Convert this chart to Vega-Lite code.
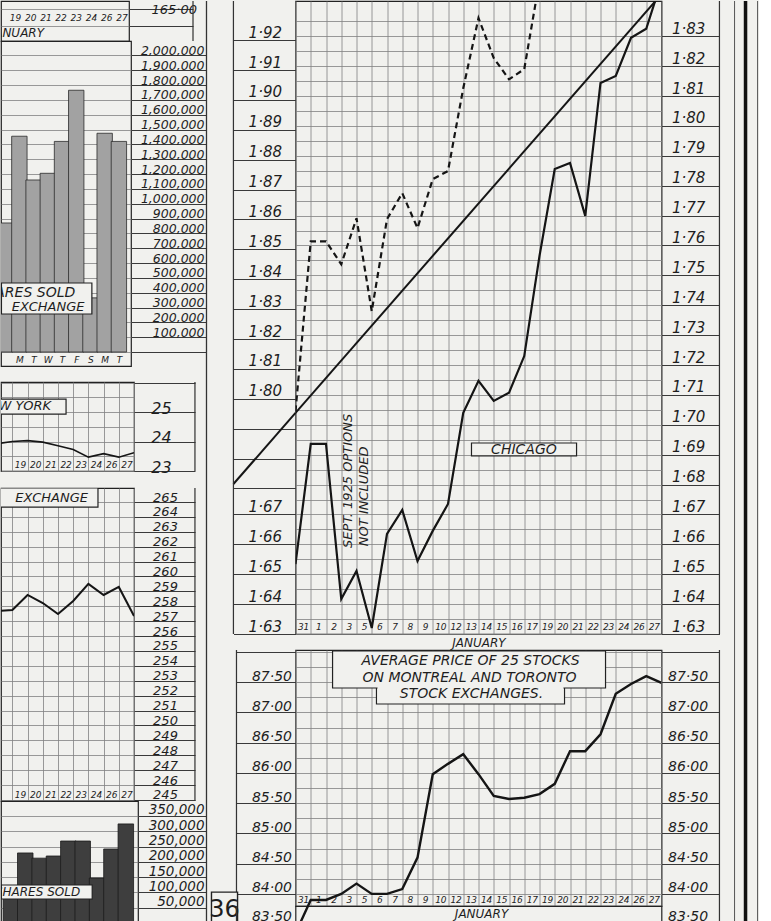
{
"$schema": "https://vega.github.io/schema/vega-lite/v6.json",
"padding": 0,
"background": "#f1f1ee",
"config": {
  "view": {"stroke": "#222", "strokeWidth": 1.2},
  "axis": {"labelFont": "DejaVu Sans", "labelFontStyle": "italic", "labelColor": "#1e1e1e", "gridColor": "#828282", "gridWidth": 0.8, "tickColor": "#3a3a3a", "tickWidth": 1, "domain": false, "labelOverlap": false, "labelFlush": false},
  "text": {"font": "DejaVu Sans", "fontStyle": "italic", "color": "#1e1e1e"}
},
"datasets": {
  "avg": [{"g":0,"v":83.35},{"g":1,"v":83.90},{"g":2,"v":83.90},{"g":3,"v":84.00},{"g":4,"v":84.17},{"g":5,"v":84.00},{"g":6,"v":84.00},{"g":7,"v":84.08},{"g":8,"v":84.60},{"g":9,"v":85.98},{"g":10,"v":86.15},{"g":11,"v":86.31},{"g":12,"v":85.98},{"g":13,"v":85.62},{"g":14,"v":85.57},{"g":15,"v":85.59},{"g":16,"v":85.65},{"g":17,"v":85.82},{"g":18,"v":86.36},{"g":19,"v":86.36},{"g":20,"v":86.64},{"g":21,"v":87.31},{"g":22,"v":87.47},{"g":23,"v":87.60},{"g":24,"v":87.49}]
},
"spacing": -3.5,
"hconcat": [
 {
  "spacing": 0, "bounds": "flush",
  "vconcat": [
   {
    "width": 128, "height": 40,
    "resolve": {"axis": {"x": "independent", "y": "independent"}},
    "layer": [
     {"data": {"values": [{}]}, "mark": {"type": "rect", "color": "#333"},
      "encoding": {"x": {"datum": 27.67, "type": "quantitative", "scale": {"domain": [15.08, 23.5], "nice": false, "zero": false},
        "axis": {"values": [16,17,18,19,20,21,22,23], "grid": false, "ticks": false, "labelExpr": "['31','1','2','3','5','6','7','8','9','10','12','13','14','15','16','17','19','20','21','22','23','24','26','27'][datum.value]", "labelPadding": -23.5, "labelBaseline": "middle", "labelFontSize": 9, "labelAngle": 0, "title": null}}, "x2": {"datum": 27.75}}},
     {"data": {"values": [{}]}, "mark": {"type": "text", "text": "JANUARY", "align": "right", "baseline": "middle", "fontSize": 12, "clip": true},
      "encoding": {"x": {"datum": 17.91, "type": "quantitative", "scale": {"domain": [15.08, 23.5], "nice": false, "zero": false}, "axis": null},
        "y": {"datum": 164.647, "type": "quantitative", "scale": {"domain": [164.53, 165.118], "nice": false, "zero": false},
          "axis": {"orient": "right", "values": [164.75, 165.0], "grid": true, "tickSize": 64, "labelExpr": "datum.value > 164.9 ? '165·00' : ''", "labelPadding": -42, "labelAlign": "left", "labelBaseline": "middle", "labelOffset": 0, "labelFontSize": 13, "title": null}}}}
    ]
   },
   {
    "width": 130, "height": 325,
    "resolve": {"axis": {"x": "independent", "y": "independent"}},
    "layer": [
     {"data": {"values": [{"i":15,"day":"17","shares":870000},{"i":16,"day":"19","shares":1455000},{"i":17,"day":"20","shares":1160000},{"i":18,"day":"21","shares":1205000},{"i":19,"day":"22","shares":1420000},{"i":20,"day":"23","shares":1765000},{"i":21,"day":"24","shares":365000},{"i":22,"day":"26","shares":1475000},{"i":23,"day":"27","shares":1420000}]},
      "mark": {"type": "bar", "size": 15.4, "fill": "#a2a2a2", "stroke": "#2a2a2a", "strokeWidth": 0.8, "clip": true},
      "encoding": {
        "x": {"field": "i", "type": "quantitative", "scale": {"domain": [15.06, 23.5], "nice": false, "zero": false},
          "axis": {"values": [16,17,18,19,20,21,22,23], "grid": false, "ticks": false, "labelExpr": "['W','T','F','S','M','T','W','T','F','S','M','T','W','T','F','S','M','T','W','T','F','S','M','T'][datum.value]", "labelPadding": -7, "labelBaseline": "middle", "labelFontSize": 9, "labelAngle": 0, "title": null}},
        "y": {"field": "shares", "type": "quantitative", "scale": {"domain": [-94400, 2097100], "nice": false, "zero": false},
          "axis": {"orient": "right", "values": [0,100000,200000,300000,400000,500000,600000,700000,800000,900000,1000000,1100000,1200000,1300000,1400000,1500000,1600000,1700000,1800000,1900000,2000000], "grid": true, "tickSize": 75, "labelExpr": "datum.value > 0 ? format(datum.value, ',') : ''", "labelPadding": -2, "labelAlign": "right", "labelBaseline": "middle", "labelOffset": -5, "labelFontSize": 12.5, "title": null}}
      }},
     {"data": {"values": [{}]}, "mark": {"type": "rect", "fill": "#f1f1ee", "stroke": "#222", "strokeWidth": 1.2, "clip": true},
      "encoding": {"x": {"datum": 14.74, "type": "quantitative", "scale": {"domain": [15.06, 23.5], "nice": false, "zero": false}, "axis": null}, "x2": {"datum": 21.10},
        "y": {"datum": 465300, "type": "quantitative", "scale": {"domain": [-94400, 2097100], "nice": false, "zero": false}, "axis": null}, "y2": {"datum": 256200}}},
     {"data": {"values": [{}]}, "mark": {"type": "text", "text": "SHARES SOLD", "align": "right", "baseline": "middle", "fontSize": 14, "clip": true},
      "encoding": {"x": {"datum": 19.93, "type": "quantitative", "scale": {"domain": [15.06, 23.5], "nice": false, "zero": false}, "axis": null},
        "y": {"datum": 397800, "type": "quantitative", "scale": {"domain": [-94400, 2097100], "nice": false, "zero": false}, "axis": null}}},
     {"data": {"values": [{}]}, "mark": {"type": "text", "text": "EXCHANGE", "align": "right", "baseline": "middle", "fontSize": 13, "clip": true},
      "encoding": {"x": {"datum": 20.58, "type": "quantitative", "scale": {"domain": [15.06, 23.5], "nice": false, "zero": false}, "axis": null},
        "y": {"datum": 303400, "type": "quantitative", "scale": {"domain": [-94400, 2097100], "nice": false, "zero": false}, "axis": null}}}
    ]
   },
   {"width": 10, "height": 16, "view": {"stroke": null}, "data": {"values": [{}]}, "mark": {"type": "point", "opacity": 0, "size": 0}},
   {
    "width": 133, "height": 89,
    "resolve": {"axis": {"x": "independent", "y": "independent"}},
    "layer": [
     {"data": {"values": [{"g":15,"v":23.93},{"g":16,"v":24.0},{"g":17,"v":24.03},{"g":18,"v":23.98},{"g":19,"v":23.86},{"g":20,"v":23.73},{"g":21,"v":23.47},{"g":22,"v":23.59},{"g":23,"v":23.47},{"g":24,"v":23.62}]},
      "mark": {"type": "line", "color": "#151515", "strokeWidth": 1.6, "clip": true},
      "encoding": {
        "x": {"field": "g", "type": "quantitative", "scale": {"domain": [15.25, 24], "nice": false, "zero": false},
          "axis": {"values": [15,16,17,18,19,20,21,22,23,24], "grid": true, "ticks": false, "labelExpr": "datum.value < 24 ? ['31','1','2','3','5','6','7','8','9','10','12','13','14','15','16','17','19','20','21','22','23','24','26','27'][datum.value] : ''", "labelOffset": 7.6, "labelPadding": -7, "labelBaseline": "middle", "labelFontSize": 9, "labelAngle": 0, "title": null}},
        "y": {"field": "v", "type": "quantitative", "scale": {"domain": [23, 26.02], "nice": false, "zero": false},
          "axis": {"orient": "right", "values": [23,23.5,24,24.5,25,25.5,26], "grid": true, "tickSize": 61, "tickOpacity": {"condition": {"test": "datum.value % 1 == 0", "value": 1}, "value": 0}, "labelExpr": "datum.value % 1 == 0 && datum.value < 26 ? format(datum.value, 'd') : ''", "labelPadding": -34, "labelAlign": "center", "labelBaseline": "middle", "labelOffset": -4, "labelFontSize": 16, "title": null}}
      }},
     {"data": {"values": [{}]}, "mark": {"type": "rect", "fill": "#f1f1ee", "stroke": "#222", "strokeWidth": 1.2, "clip": true},
      "encoding": {"x": {"datum": 14.92, "type": "quantitative", "scale": {"domain": [15.25, 24], "nice": false, "zero": false}, "axis": null}, "x2": {"datum": 19.53},
        "y": {"datum": 25.44, "type": "quantitative", "scale": {"domain": [23, 26.02], "nice": false, "zero": false}, "axis": null}, "y2": {"datum": 24.93}}},
     {"data": {"values": [{}]}, "mark": {"type": "text", "text": "NEW YORK", "align": "right", "baseline": "middle", "fontSize": 13, "clip": true},
      "encoding": {"x": {"datum": 18.54, "type": "quantitative", "scale": {"domain": [15.25, 24], "nice": false, "zero": false}, "axis": null},
        "y": {"datum": 25.19, "type": "quantitative", "scale": {"domain": [23, 26.02], "nice": false, "zero": false}, "axis": null}}},
     {"data": {"values": [{}]}, "mark": {"type": "rect", "color": "#333"},
      "encoding": {"x": {"datum": 27.97, "type": "quantitative", "scale": {"domain": [15.25, 24], "nice": false, "zero": false}, "axis": null}, "x2": {"datum": 28.05}}}
    ]
   },
   {"width": 10, "height": 17, "view": {"stroke": null}, "data": {"values": [{}]}, "mark": {"type": "point", "opacity": 0, "size": 0}},
   {
    "width": 133, "height": 313,
    "resolve": {"axis": {"x": "independent", "y": "independent"}},
    "layer": [
     {"data": {"values": [{"g":15,"v":257.68},{"g":16,"v":257.75},{"g":17,"v":258.76},{"g":18,"v":258.22},{"g":19,"v":257.48},{"g":20,"v":258.36},{"g":21,"v":259.50},{"g":22,"v":258.76},{"g":23,"v":259.30},{"g":24,"v":257.35}]},
      "mark": {"type": "line", "color": "#151515", "strokeWidth": 2, "clip": true},
      "encoding": {
        "x": {"field": "g", "type": "quantitative", "scale": {"domain": [15.25, 24], "nice": false, "zero": false},
          "axis": {"values": [15,16,17,18,19,20,21,22,23,24], "grid": true, "ticks": false, "labelExpr": "datum.value < 24 ? ['31','1','2','3','5','6','7','8','9','10','12','13','14','15','16','17','19','20','21','22','23','24','26','27'][datum.value] : ''", "labelOffset": 7.6, "labelPadding": -7, "labelBaseline": "middle", "labelFontSize": 9, "labelAngle": 0, "title": null}},
        "y": {"field": "v", "type": "quantitative", "scale": {"domain": [244.93, 265.94], "nice": false, "zero": false},
          "axis": {"orient": "right", "values": [245,246,247,248,249,250,251,252,253,254,255,256,257,258,259,260,261,262,263,264,265], "grid": true, "tickSize": 61, "labelPadding": -30, "labelAlign": "center", "labelBaseline": "middle", "labelOffset": -5, "labelFontSize": 13, "title": null}}
      }},
     {"data": {"values": [{}]}, "mark": {"type": "rect", "fill": "#f1f1ee", "stroke": "#222", "strokeWidth": 1.2, "clip": true},
      "encoding": {"x": {"datum": 14.92, "type": "quantitative", "scale": {"domain": [15.25, 24], "nice": false, "zero": false}, "axis": null}, "x2": {"datum": 21.63},
        "y": {"datum": 265.94, "type": "quantitative", "scale": {"domain": [244.93, 265.94], "nice": false, "zero": false}, "axis": null}, "y2": {"datum": 264.66}}},
     {"data": {"values": [{}]}, "mark": {"type": "text", "text": "EXCHANGE", "align": "right", "baseline": "middle", "fontSize": 13, "clip": true},
      "encoding": {"x": {"datum": 20.97, "type": "quantitative", "scale": {"domain": [15.25, 24], "nice": false, "zero": false}, "axis": null},
        "y": {"datum": 265.27, "type": "quantitative", "scale": {"domain": [244.93, 265.94], "nice": false, "zero": false}, "axis": null}}},
     {"data": {"values": [{}]}, "mark": {"type": "rect", "color": "#333"},
      "encoding": {"x": {"datum": 27.97, "type": "quantitative", "scale": {"domain": [15.25, 24], "nice": false, "zero": false}, "axis": null}, "x2": {"datum": 28.05}}}
    ]
   },
   {
    "width": 137, "height": 125,
    "resolve": {"axis": {"x": "independent", "y": "independent"}},
    "layer": [
     {"data": {"values": [{"i":15,"shares":100000},{"i":16,"shares":229000},{"i":17,"shares":212000},{"i":18,"shares":219000},{"i":19,"shares":268000},{"i":20,"shares":268000},{"i":21,"shares":147000},{"i":22,"shares":242000},{"i":23,"shares":324000}]},
      "mark": {"type": "bar", "size": 15.5, "fill": "#3e3e3e", "stroke": "#1a1a1a", "strokeWidth": 0.8, "clip": true},
      "encoding": {
        "x": {"field": "i", "type": "quantitative", "scale": {"domain": [14.66, 23.5], "nice": false, "zero": false}, "axis": null},
        "y": {"field": "shares", "type": "quantitative", "scale": {"domain": [-10000, 399000], "nice": false, "zero": false},
          "axis": {"orient": "right", "values": [0,50000,100000,150000,200000,250000,300000,350000], "grid": true, "tickSize": 68, "labelExpr": "datum.value > 0 ? format(datum.value, ',') : ''", "labelPadding": -2, "labelAlign": "right", "labelBaseline": "middle", "labelOffset": -6, "labelFontSize": 13.5, "title": null}}
      }},
     {"data": {"values": [{}]}, "mark": {"type": "rect", "fill": "#f1f1ee", "stroke": "#222", "strokeWidth": 1.2, "clip": true},
      "encoding": {"x": {"datum": 14.34, "type": "quantitative", "scale": {"domain": [14.66, 23.5], "nice": false, "zero": false}, "axis": null}, "x2": {"datum": 20.66},
        "y": {"datum": 124200, "type": "quantitative", "scale": {"domain": [-10000, 399000], "nice": false, "zero": false}, "axis": null}, "y2": {"datum": 78400}}},
     {"data": {"values": [{}]}, "mark": {"type": "text", "text": "SHARES SOLD", "align": "right", "baseline": "middle", "fontSize": 12, "clip": true},
      "encoding": {"x": {"datum": 19.82, "type": "quantitative", "scale": {"domain": [14.66, 23.5], "nice": false, "zero": false}, "axis": null},
        "y": {"datum": 101300, "type": "quantitative", "scale": {"domain": [-10000, 399000], "nice": false, "zero": false}, "axis": null}}}
    ]
   }
  ]
 },
 {
  "spacing": 0, "bounds": "flush",
  "vconcat": [
   {
    "width": 366, "height": 633,
    "resolve": {"scale": {"y": "independent"}, "axis": {"x": "independent", "y": "independent"}},
    "layer": [
     {
      "resolve": {"axis": {"x": "independent", "y": "independent"}},
      "layer": [
       {"data": {"values": [{"g":0,"v":1.6534},{"g":1,"v":1.6936},{"g":2,"v":1.6936},{"g":3,"v":1.6417},{"g":4,"v":1.6511},{"g":5,"v":1.6320},{"g":6,"v":1.6635},{"g":7,"v":1.6715},{"g":8,"v":1.6544},{"g":9,"v":1.6645},{"g":10,"v":1.6735},{"g":11,"v":1.7040},{"g":12,"v":1.7147},{"g":13,"v":1.7080},{"g":14,"v":1.7107},{"g":15,"v":1.7230},{"g":16,"v":1.7565},{"g":17,"v":1.7856},{"g":18,"v":1.7876},{"g":19,"v":1.7699},{"g":20,"v":1.8144},{"g":21,"v":1.8167},{"g":22,"v":1.8295},{"g":23,"v":1.8325},{"g":24,"v":1.8485}]},
        "mark": {"type": "line", "color": "#151515", "strokeWidth": 2.2, "clip": true},
        "encoding": {
          "x": {"field": "g", "type": "quantitative", "scale": {"domain": [0, 24], "nice": false, "zero": false},
            "axis": {"orient": "bottom", "values": [0,1,2,3,4,5,6,7,8,9,10,11,12,13,14,15,16,17,18,19,20,21,22,23,24], "grid": true, "ticks": false, "labelExpr": "datum.value < 24 ? ['31','1','2','3','5','6','7','8','9','10','12','13','14','15','16','17','19','20','21','22','23','24','26','27'][datum.value] : ''", "labelOffset": 7.6, "labelPadding": -12, "labelBaseline": "top", "labelFontSize": 9, "labelAngle": 0,
              "title": "JANUARY", "titleFont": "DejaVu Sans", "titleFontStyle": "italic", "titleFontWeight": "normal", "titleFontSize": 12, "titleColor": "#1e1e1e", "titleY": 8, "titleBaseline": "middle"}},
          "y": {"field": "v", "type": "quantitative", "scale": {"domain": [1.63, 1.8418], "nice": false, "zero": false},
            "axis": {"orient": "right", "values": [1.63,1.635,1.64,1.645,1.65,1.655,1.66,1.665,1.67,1.675,1.68,1.685,1.69,1.695,1.7,1.705,1.71,1.715,1.72,1.725,1.73,1.735,1.74,1.745,1.75,1.755,1.76,1.765,1.77,1.775,1.78,1.785,1.79,1.795,1.8,1.805,1.81,1.815,1.82,1.825,1.83,1.835], "grid": true, "tickSize": 58, "tickOpacity": {"condition": {"test": "abs(datum.value*100-round(datum.value*100)) < 0.01", "value": 1}, "value": 0},
              "labelExpr": "abs(datum.value*100-round(datum.value*100)) < 0.01 ? replace(format(datum.value, '.2f'), '.', '·') : ''", "labelPadding": -48, "labelAlign": "left", "labelBaseline": "middle", "labelOffset": -8, "labelFontSize": 15, "title": null}}
        }},
       {"data": {"values": [{"g": -4.07, "v": 1.6802}, {"g": 0, "v": 1.7040}]},
        "mark": {"type": "line", "color": "#151515", "strokeWidth": 2},
        "encoding": {"x": {"field": "g", "type": "quantitative", "scale": {"domain": [0, 24], "nice": false, "zero": false}, "axis": null},
          "y": {"field": "v", "type": "quantitative", "scale": {"domain": [1.63, 1.8418], "nice": false, "zero": false}, "axis": null}}},
       {"data": {"values": [{"g": 0, "v": 1.7040}, {"g": 24.5, "v": 1.8470}]},
        "mark": {"type": "line", "color": "#151515", "strokeWidth": 2, "clip": true},
        "encoding": {"x": {"field": "g", "type": "quantitative", "scale": {"domain": [0, 24], "nice": false, "zero": false}, "axis": null},
          "y": {"field": "v", "type": "quantitative", "scale": {"domain": [1.63, 1.8418], "nice": false, "zero": false}, "axis": null}}},
       {"data": {"values": [{}]}, "mark": {"type": "rect", "color": "#333"},
        "encoding": {"x": {"datum": -5.879, "type": "quantitative", "scale": {"domain": [0, 24], "nice": false, "zero": false}, "axis": null}, "x2": {"datum": -5.794},
          "y": {"datum": 1.8418, "type": "quantitative", "scale": {"domain": [1.63, 1.8418], "nice": false, "zero": false}, "axis": null}, "y2": {"datum": 1.5336}}},
       {"data": {"values": [{}]}, "mark": {"type": "rect", "color": "#555"},
        "encoding": {"x": {"datum": 28.757, "type": "quantitative", "scale": {"domain": [0, 24], "nice": false, "zero": false}, "axis": null}, "x2": {"datum": 28.823},
          "y": {"datum": 1.8418, "type": "quantitative", "scale": {"domain": [1.63, 1.8418], "nice": false, "zero": false}, "axis": null}, "y2": {"datum": 1.5336}}},
       {"data": {"values": [{}]}, "mark": {"type": "rect", "color": "#111"},
        "encoding": {"x": {"datum": 29.395, "type": "quantitative", "scale": {"domain": [0, 24], "nice": false, "zero": false}, "axis": null}, "x2": {"datum": 29.625},
          "y": {"datum": 1.8418, "type": "quantitative", "scale": {"domain": [1.63, 1.8418], "nice": false, "zero": false}, "axis": null}, "y2": {"datum": 1.5336}}},
       {"data": {"values": [{}]}, "mark": {"type": "rect", "color": "#555"},
        "encoding": {"x": {"datum": 30.267, "type": "quantitative", "scale": {"domain": [0, 24], "nice": false, "zero": false}, "axis": null}, "x2": {"datum": 30.333},
          "y": {"datum": 1.8418, "type": "quantitative", "scale": {"domain": [1.63, 1.8418], "nice": false, "zero": false}, "axis": null}, "y2": {"datum": 1.5336}}},
       {"data": {"values": [{}]}, "mark": {"type": "rect", "color": "#333"},
        "encoding": {"x": {"datum": -4.11, "type": "quantitative", "scale": {"domain": [0, 24], "nice": false, "zero": false}, "axis": null}, "x2": {"datum": -4.03}}},
       {"data": {"values": [{}]}, "mark": {"type": "rect", "color": "#333"},
        "encoding": {"x": {"datum": 27.76, "type": "quantitative", "scale": {"domain": [0, 24], "nice": false, "zero": false}, "axis": null}, "x2": {"datum": 27.84}}},
       {"data": {"values": [{}]}, "mark": {"type": "rect", "fill": "#f1f1ee", "stroke": "#222", "strokeWidth": 1.2},
        "encoding": {"x": {"datum": 11.54, "type": "quantitative", "scale": {"domain": [0, 24], "nice": false, "zero": false}, "axis": null}, "x2": {"datum": 18.43},
          "y": {"datum": 1.6939, "type": "quantitative", "scale": {"domain": [1.63, 1.8418], "nice": false, "zero": false}, "axis": null}, "y2": {"datum": 1.6896}}},
       {"data": {"values": [{}]}, "mark": {"type": "text", "text": "CHICAGO", "align": "center", "baseline": "middle", "fontSize": 14},
        "encoding": {"x": {"datum": 14.98, "type": "quantitative", "scale": {"domain": [0, 24], "nice": false, "zero": false}, "axis": null},
          "y": {"datum": 1.6917, "type": "quantitative", "scale": {"domain": [1.63, 1.8418], "nice": false, "zero": false}, "axis": null}}},
       {"data": {"values": [{}]}, "mark": {"type": "text", "text": "SEPT. 1925 OPTIONS", "align": "left", "baseline": "middle", "angle": 270, "fontSize": 13},
        "encoding": {"x": {"datum": 3.41, "type": "quantitative", "scale": {"domain": [0, 24], "nice": false, "zero": false}, "axis": null},
          "y": {"datum": 1.6588, "type": "quantitative", "scale": {"domain": [1.63, 1.8418], "nice": false, "zero": false}, "axis": null}}},
       {"data": {"values": [{}]}, "mark": {"type": "text", "text": "NOT INCLUDED", "align": "left", "baseline": "middle", "angle": 270, "fontSize": 13},
        "encoding": {"x": {"datum": 4.46, "type": "quantitative", "scale": {"domain": [0, 24], "nice": false, "zero": false}, "axis": null},
          "y": {"datum": 1.6594, "type": "quantitative", "scale": {"domain": [1.63, 1.8418], "nice": false, "zero": false}, "axis": null}}}
      ]
     },
     {"data": {"values": [{"g":0,"v":1.7958},{"g":1,"v":1.8527},{"g":2,"v":1.8527},{"g":3,"v":1.8450},{"g":4,"v":1.8604},{"g":5,"v":1.8293},{"g":6,"v":1.8601},{"g":7,"v":1.8688},{"g":8,"v":1.8571},{"g":9,"v":1.8735},{"g":10,"v":1.8762},{"g":11,"v":1.9039},{"g":12,"v":1.9274},{"g":13,"v":1.9140},{"g":14,"v":1.9069},{"g":15,"v":1.9103},{"g":16,"v":1.9400}]},
      "mark": {"type": "line", "color": "#151515", "strokeWidth": 2.2, "strokeDash": [6, 4], "clip": true},
      "encoding": {
        "x": {"field": "g", "type": "quantitative", "scale": {"domain": [0, 24], "nice": false, "zero": false}, "axis": null},
        "y": {"field": "v", "type": "quantitative", "scale": {"domain": [1.7213, 1.9331], "nice": false, "zero": false},
          "axis": {"orient": "left", "values": [1.7213,1.7313,1.7413,1.7513,1.7613,1.77,1.78,1.79,1.8,1.81,1.82,1.83,1.84,1.85,1.86,1.87,1.88,1.89,1.9,1.91,1.92], "grid": false, "tickSize": 62,
            "labelExpr": "datum.value < 1.765 ? replace(format(datum.value - 0.0913, '.2f'), '.', '·') : (datum.value > 1.795 ? replace(format(datum.value, '.2f'), '.', '·') : '')", "labelPadding": -48, "labelAlign": "right", "labelBaseline": "middle", "labelOffset": -8, "labelFontSize": 15, "title": null}}
      }}
    ]
   },
   {"width": 10, "height": 16, "view": {"stroke": null}, "data": {"values": [{}]}, "mark": {"type": "point", "opacity": 0, "size": 0}},
   {
    "width": 366, "height": 256,
    "resolve": {"axis": {"x": "independent", "y": "independent"}},
    "layer": [
     {"data": {"name": "avg"},
      "mark": {"type": "line", "color": "#151515", "strokeWidth": 2.4, "clip": true},
      "encoding": {
        "x": {"field": "g", "type": "quantitative", "scale": {"domain": [0, 24], "nice": false, "zero": false},
          "axis": {"orient": "bottom", "values": [0,1,2,3,4,5,6,7,8,9,10,11,12,13,14,15,16,17,18,19,20,21,22,23,24], "grid": true, "ticks": false, "labelExpr": "datum.value < 24 ? ['31','1','2','3','5','6','7','8','9','10','12','13','14','15','16','17','19','20','21','22','23','24','26','27'][datum.value] : ''", "labelOffset": 7.6, "labelPadding": -11, "labelBaseline": "top", "labelFontSize": 9, "labelAngle": 0, "title": null}},
        "y": {"field": "v", "type": "quantitative", "scale": {"domain": [83.8, 88.033], "nice": false, "zero": false},
          "axis": {"orient": "left", "values": [84,84.25,84.5,84.75,85,85.25,85.5,85.75,86,86.25,86.5,86.75,87,87.25,87.5,87.75,88], "grid": true, "tickSize": 59, "tickOpacity": {"condition": {"test": "abs(datum.value*2-round(datum.value*2)) < 0.01", "value": 1}, "value": 0},
            "labelExpr": "abs(datum.value*2-round(datum.value*2)) < 0.01 && datum.value < 87.75 ? replace(format(datum.value, '.2f'), '.', '·') : ''", "labelPadding": -55, "labelAlign": "right", "labelBaseline": "middle", "labelOffset": -6, "labelFontSize": 14, "title": null}}
      }},
     {"data": {"values": [{}]}, "mark": {"type": "rect", "fill": "#f1f1ee", "stroke": "#222", "strokeWidth": 1.2},
      "encoding": {"x": {"datum": 5.31, "type": "quantitative", "scale": {"domain": [0, 24], "nice": false, "zero": false}, "axis": null}, "x2": {"datum": 17.64},
        "y": {"datum": 87.52, "type": "quantitative", "scale": {"domain": [83.8, 88.033], "nice": false, "zero": false},
          "axis": {"orient": "right", "values": [84,84.25,84.5,84.75,85,85.25,85.5,85.75,86,86.25,86.5,86.75,87,87.25,87.5,87.75,88], "grid": false, "tickSize": 58, "tickOpacity": {"condition": {"test": "abs(datum.value*2-round(datum.value*2)) < 0.01", "value": 1}, "value": 0},
            "labelExpr": "abs(datum.value*2-round(datum.value*2)) < 0.01 && datum.value < 87.75 ? replace(format(datum.value, '.2f'), '.', '·') : ''", "labelPadding": -52, "labelAlign": "left", "labelBaseline": "middle", "labelOffset": -6, "labelFontSize": 14, "title": null}},
        "y2": {"datum": 87.14}}},
     {"data": {"values": [{}]}, "mark": {"type": "rect", "fill": "#f1f1ee", "stroke": "#222", "strokeWidth": 1.2},
      "encoding": {"x": {"datum": 2.43, "type": "quantitative", "scale": {"domain": [0, 24], "nice": false, "zero": false}, "axis": null}, "x2": {"datum": 20.33},
        "y": {"datum": 88.017, "type": "quantitative", "scale": {"domain": [83.8, 88.033], "nice": false, "zero": false}, "axis": null}, "y2": {"datum": 87.405}}},
     {"data": {"values": [{}]}, "mark": {"type": "rect", "fill": "#f1f1ee"},
      "encoding": {"x": {"datum": 5.38, "type": "quantitative", "scale": {"domain": [0, 24], "nice": false, "zero": false}, "axis": null}, "x2": {"datum": 17.57},
        "y": {"datum": 87.455, "type": "quantitative", "scale": {"domain": [83.8, 88.033], "nice": false, "zero": false}, "axis": null}, "y2": {"datum": 87.157}}},
     {"data": {"values": [{}]}, "mark": {"type": "text", "text": "AVERAGE PRICE OF 25 STOCKS", "align": "center", "baseline": "middle", "fontSize": 14},
      "encoding": {"x": {"datum": 11.48, "type": "quantitative", "scale": {"domain": [0, 24], "nice": false, "zero": false}, "axis": null},
        "y": {"datum": 87.85, "type": "quantitative", "scale": {"domain": [83.8, 88.033], "nice": false, "zero": false}, "axis": null}}},
     {"data": {"values": [{}]}, "mark": {"type": "text", "text": "ON MONTREAL AND TORONTO", "align": "center", "baseline": "middle", "fontSize": 14},
      "encoding": {"x": {"datum": 11.41, "type": "quantitative", "scale": {"domain": [0, 24], "nice": false, "zero": false}, "axis": null},
        "y": {"datum": 87.57, "type": "quantitative", "scale": {"domain": [83.8, 88.033], "nice": false, "zero": false}, "axis": null}}},
     {"data": {"values": [{}]}, "mark": {"type": "text", "text": "STOCK EXCHANGES.", "align": "center", "baseline": "middle", "fontSize": 14},
      "encoding": {"x": {"datum": 11.54, "type": "quantitative", "scale": {"domain": [0, 24], "nice": false, "zero": false}, "axis": null},
        "y": {"datum": 87.31, "type": "quantitative", "scale": {"domain": [83.8, 88.033], "nice": false, "zero": false}, "axis": null}}},
     {"data": {"values": [{}]}, "mark": {"type": "rect", "color": "#333"},
      "encoding": {"x": {"datum": -3.91, "type": "quantitative", "scale": {"domain": [0, 24], "nice": false, "zero": false}, "axis": null}, "x2": {"datum": -3.83}}},
     {"data": {"values": [{}]}, "mark": {"type": "rect", "color": "#333"},
      "encoding": {"x": {"datum": 27.76, "type": "quantitative", "scale": {"domain": [0, 24], "nice": false, "zero": false}, "axis": null}, "x2": {"datum": 27.84}}},
     {"data": {"values": [{}]}, "mark": {"type": "rect", "fill": "#f1f1ee", "stroke": "#222", "strokeWidth": 1.4},
      "encoding": {"x": {"datum": -5.51, "type": "quantitative", "scale": {"domain": [0, 24], "nice": false, "zero": false}, "axis": null}, "x2": {"datum": -3.8},
        "y": {"datum": 84.03, "type": "quantitative", "scale": {"domain": [83.8, 88.033], "nice": false, "zero": false}, "axis": null}, "y2": {"datum": 83.52}}},
     {"data": {"values": [{}]}, "mark": {"type": "text", "text": "36", "align": "center", "baseline": "middle", "fontSize": 24, "fontStyle": "normal"},
      "encoding": {"x": {"datum": -4.65, "type": "quantitative", "scale": {"domain": [0, 24], "nice": false, "zero": false}, "axis": null},
        "y": {"datum": 83.74, "type": "quantitative", "scale": {"domain": [83.8, 88.033], "nice": false, "zero": false}, "axis": null}}}
    ]
   },
   {
    "width": 366, "height": 20,
    "resolve": {"axis": {"x": "independent", "y": "independent"}},
    "layer": [
     {"data": {"name": "avg"},
      "mark": {"type": "line", "color": "#151515", "strokeWidth": 2.4, "clip": true},
      "encoding": {
        "x": {"field": "g", "type": "quantitative", "scale": {"domain": [0, 24], "nice": false, "zero": false}, "axis": null},
        "y": {"field": "v", "type": "quantitative", "scale": {"domain": [83.47, 83.8], "nice": false, "zero": false},
          "axis": {"orient": "left", "values": [83.5], "grid": false, "ticks": false, "labelExpr": "'83·50'", "labelPadding": 4, "labelAlign": "right", "labelBaseline": "middle", "labelOffset": -8, "labelFontSize": 14, "title": null}}
      }},
     {"data": {"values": [{}]}, "mark": {"type": "text", "text": "JANUARY", "align": "center", "baseline": "middle", "fontSize": 12},
      "encoding": {"x": {"datum": 12.2, "type": "quantitative", "scale": {"domain": [0, 24], "nice": false, "zero": false}, "axis": null},
        "y": {"datum": 83.668, "type": "quantitative", "scale": {"domain": [83.47, 83.8], "nice": false, "zero": false},
          "axis": {"orient": "right", "values": [83.5], "grid": false, "ticks": false, "labelExpr": "'83·50'", "labelPadding": 6, "labelAlign": "left", "labelBaseline": "middle", "labelOffset": -8, "labelFontSize": 14, "title": null}}}},
     {"data": {"values": [{}]}, "mark": {"type": "rect", "color": "#333"},
      "encoding": {"x": {"datum": -3.91, "type": "quantitative", "scale": {"domain": [0, 24], "nice": false, "zero": false}, "axis": null}, "x2": {"datum": -3.83}}},
     {"data": {"values": [{}]}, "mark": {"type": "rect", "color": "#333"},
      "encoding": {"x": {"datum": 27.76, "type": "quantitative", "scale": {"domain": [0, 24], "nice": false, "zero": false}, "axis": null}, "x2": {"datum": 27.84}}}
    ]
   }
  ]
 }
]
}
